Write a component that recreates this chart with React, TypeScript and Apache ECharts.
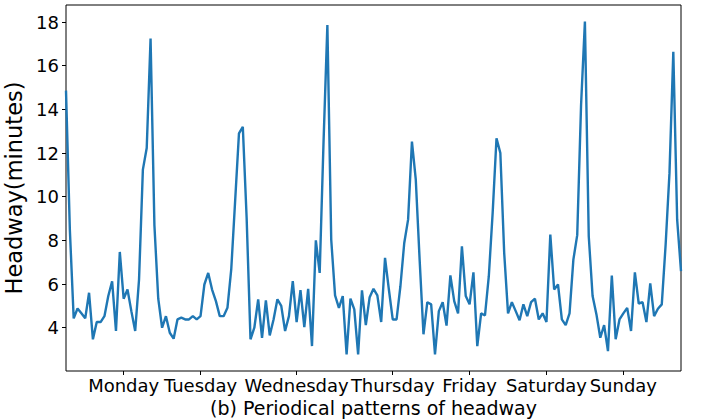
import React, { useEffect, useRef } from "react";
import * as echarts from "echarts";

// Hourly slot index (0..160) where each weekday label sits
const dayTickPositions = [15, 35, 60, 85, 105, 125, 145];
const dayLabels = ["Monday", "Tuesday", "Wednesday", "Thursday", "Friday", "Saturday", "Sunday"];
const yTicks = [4, 6, 8, 10, 12, 14, 16, 18];

// Mean headway (minutes) per time slot over the week
const headway = [
  14.86, 8.5, 4.43, 4.88, 4.66, 4.43, 5.6, 3.47, 4.26, 4.26,
  4.53, 5.45, 6.13, 3.85, 7.47, 5.33, 5.75, 4.76, 3.85, 6.2,
  11.24, 12.23, 17.25, 8.7, 5.33, 4.0, 4.53, 3.77, 3.5, 4.38,
  4.46, 4.38, 4.38, 4.53, 4.38, 4.53, 5.98, 6.51, 5.75, 5.22,
  4.53, 4.53, 4.91, 6.7, 9.8, 12.9, 13.2, 9.0, 3.47, 4.0,
  5.3, 3.54, 5.25, 3.65, 4.38, 5.3, 5.0, 3.85, 4.53, 6.13,
  4.26, 5.72, 4.03, 5.78, 3.16, 8.0, 6.51, 12.5, 17.86, 8.04,
  5.48, 4.91, 5.45, 2.78, 5.33, 4.84, 2.78, 5.71, 4.12, 5.4,
  5.78, 5.48, 4.26, 7.2, 5.75, 4.38, 4.38, 5.9, 7.88, 8.95,
  12.53, 10.78, 7.12, 3.7, 5.17, 5.07, 2.78, 4.76, 5.17, 4.1,
  6.4, 5.22, 4.66, 7.73, 5.45, 5.07, 6.54, 3.16, 4.66, 4.56,
  6.36, 9.26, 12.68, 12.0, 7.43, 4.66, 5.17, 4.76, 4.34, 5.07,
  4.53, 5.17, 5.33, 4.38, 4.66, 4.26, 8.27, 5.75, 5.98, 4.38,
  4.12, 4.66, 7.12, 8.24, 14.2, 18.02, 8.19, 5.45, 4.61, 3.54,
  4.12, 2.93, 6.39, 3.47, 4.38, 4.66, 4.91, 3.85, 6.54, 5.11,
  5.17, 4.26, 6.03, 4.53, 4.87, 5.07, 7.8, 11.08, 16.64, 8.95,
  6.59,
];

const FONT = "DejaVu Sans";

export default function App() {
  const ref = useRef<HTMLDivElement>(null);

  useEffect(() => {
    if (!ref.current) return;
    const chart = echarts.init(ref.current, null, { renderer: "svg" });
    const lo = Math.min(...headway);
    const hi = Math.max(...headway);
    const pad = (hi - lo) * 0.05;

    chart.setOption({
      animation: false,
      backgroundColor: "#ffffff",
      grid: {
        left: 66,
        right: 20,
        top: 5,
        bottom: 48,
        containLabel: false,
        outerBoundsMode: "none",
        show: true,
        borderColor: "#000000",
        borderWidth: 1,
        backgroundColor: "transparent",
      },
      xAxis: {
        type: "value",
        min: 0,
        max: headway.length - 1,
        name: "(b) Periodical patterns of headway",
        nameLocation: "middle",
        nameGap: 19,
        nameTextStyle: { fontFamily: FONT, fontSize: 19, color: "#000" },
        axisLine: { show: false },
        splitLine: { show: false },
        axisTick: {
          show: true,
          length: 4,
          lineStyle: { color: "#000", width: 1 },
          customValues: dayTickPositions,
        },
        axisLabel: {
          customValues: dayTickPositions,
          margin: 5,
          fontFamily: FONT,
          fontSize: 18,
          color: "#000",
          formatter: (v: number) => {
            const k = dayTickPositions.indexOf(Math.round(v));
            return k >= 0 ? dayLabels[k] : "";
          },
        },
      },
      yAxis: {
        type: "value",
        min: lo - pad,
        max: hi + pad,
        name: "Headway(minutes)",
        nameLocation: "middle",
        nameGap: 32,
        nameTextStyle: { fontFamily: FONT, fontSize: 22.5, color: "#000" },
        axisLine: { show: false },
        splitLine: { show: false },
        axisTick: {
          show: true,
          length: 4,
          lineStyle: { color: "#000", width: 1 },
          customValues: yTicks,
        },
        axisLabel: {
          customValues: yTicks,
          margin: 7,
          fontFamily: FONT,
          fontSize: 18,
          color: "#000",
        },
      },
      series: [
        {
          type: "line",
          data: headway.map((v, i) => [i, v]),
          showSymbol: false,
          symbol: "none",
          lineStyle: { color: "#1f77b4", width: 2.4 },
          itemStyle: { color: "#1f77b4" },
        },
      ],
    });

    return () => chart.dispose();
  }, []);

  return (
    <div
      ref={ref}
      style={{ position: "absolute", left: 0, top: 0, width: 701, height: 419, background: "#fff" }}
    />
  );
}
